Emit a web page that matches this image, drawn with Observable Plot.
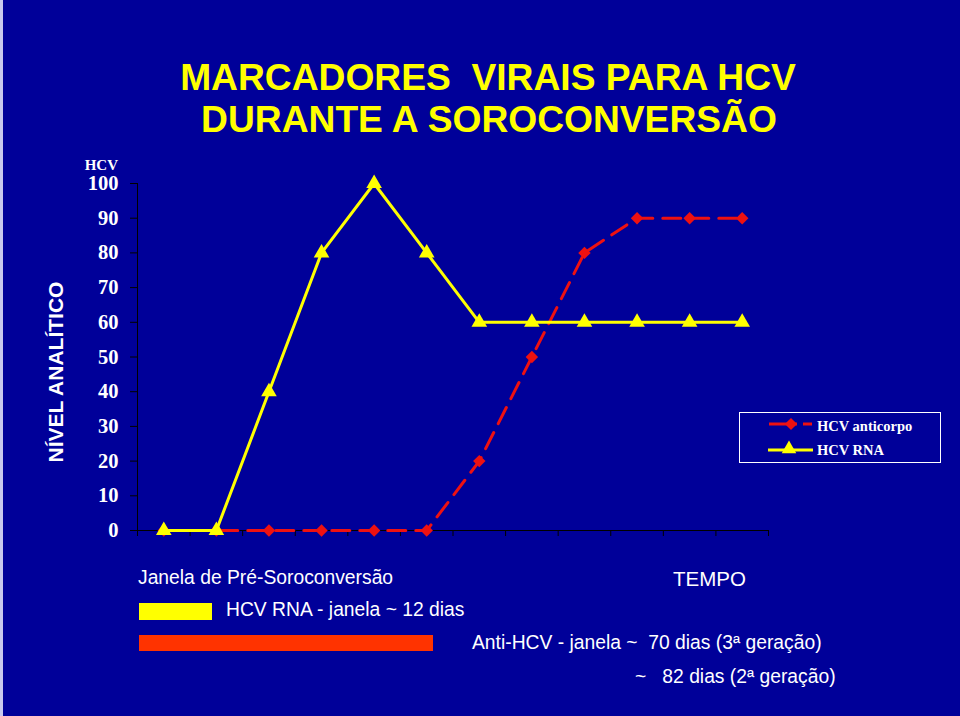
<!DOCTYPE html>
<html><head><meta charset="utf-8">
<script src="https://cdn.jsdelivr.net/npm/d3@7"></script>
<script src="https://cdn.jsdelivr.net/npm/@observablehq/plot@0.6"></script>
<style>
html,body{margin:0;padding:0;background:#000099;}
#wrap{position:relative;width:960px;height:716px;background:#000099;overflow:hidden;}
#wrap svg{position:absolute;left:0;top:0;}
#edge{position:absolute;left:0;top:0;width:3px;height:716px;background:#c8c8ee;}
</style></head><body><div id="wrap"><div id="edge"></div></div>
<script>
// ---- data ----
const tempo = [1, 2, 3, 4, 5, 6, 7, 8, 9, 10, 11, 12];
const hcvRna = [0, 0, 40, 80, 100, 80, 60, 60, 60, 60, 60, 60];
const hcvAnticorpo = [0, 0, 0, 0, 0, 0, 20, 50, 80, 90, 90, 90];
const yTicks = [0, 10, 20, 30, 40, 50, 60, 70, 80, 90, 100];
const seriesNames = ["HCV anticorpo", "HCV RNA"];
const titleLines = ["MARCADORES  VIRAIS PARA HCV", "DURANTE A SOROCONVERSÃO"];
const yUnit = "HCV";
const yLabel = "NÍVEL ANALÍTICO";
const xLabel = "TEMPO";
const notes = ["Janela de Pré-Soroconversão", "HCV RNA - janela ~ 12 dias",
  "Anti-HCV - janela ~  70 dias (3ª geração)", "~   82 dias (2ª geração)"];

const YELLOW = "#ffff00", RED = "#ee1111", BAR_RED = "#ff3300";
const SANS = "Liberation Sans, Arial, sans-serif";
const SERIF = "Liberation Serif, Times New Roman, serif";

const rnaData = tempo.map((t, i) => ({t, v: hcvRna[i]}));
const antiData = tempo.map((t, i) => ({t, v: hcvAnticorpo[i]}));
const xBounds = tempo.map(t => t - 0.5).concat([tempo[tempo.length - 1] + 0.5]);

const chart = Plot.plot({
  width: 960, height: 716,
  marginLeft: 137, marginRight: 192, marginTop: 183, marginBottom: 186,
  style: {background: "transparent", overflow: "visible"},
  x: {type: "linear", domain: [xBounds[0], xBounds[xBounds.length - 1]]},
  y: {domain: [0, 100]},
  marks: [
    Plot.axisY({ticks: yTicks, tickSize: 7, tickPadding: 12, stroke: "black",
      fill: "white", fontSize: 20.5, fontFamily: SERIF, fontWeight: "bold", label: null}),
    Plot.axisX({ticks: xBounds, tickSize: 6, tickFormat: () => "", stroke: "black", label: null}),
    Plot.ruleY([0], {stroke: "black"}),
    Plot.ruleX([xBounds[0]], {stroke: "black"}),
    Plot.line(antiData, {x: "t", y: "v", stroke: RED, strokeWidth: 3, strokeDasharray: "18,10"}),
    Plot.dot(antiData, {x: "t", y: "v", symbol: "diamond2", r: 5.6, fill: RED, stroke: "none"}),
    Plot.line(rnaData, {x: "t", y: "v", stroke: YELLOW, strokeWidth: 3}),
    Plot.dot(rnaData, {x: "t", y: "v", symbol: "triangle", r: 5.8, fill: YELLOW, stroke: "none"})
  ]
});
const wrap = document.getElementById("wrap");
wrap.appendChild(chart);

// ---- overlay: titles, labels, legend, notes ----
const ov = d3.select(wrap).append("svg").attr("width", 960).attr("height", 716)
  .style("pointer-events", "none");

function txt(s, x, y, o = {}) {
  return ov.append("text").attr("x", x).attr("y", y)
    .attr("xml:space", "preserve").style("white-space", "pre")
    .attr("text-anchor", o.anchor || "start")
    .attr("font-family", o.family || SANS)
    .attr("font-size", o.size || 19.3)
    .attr("font-weight", o.weight || "normal")
    .attr("fill", o.fill || "white")
    .text(s);
}
txt(titleLines[0], 488, 90, {anchor: "middle", size: 37.2, weight: "bold", fill: YELLOW});
txt(titleLines[1], 489, 132, {anchor: "middle", size: 37.2, weight: "bold", fill: YELLOW});
txt(yUnit, 118, 170, {anchor: "end", size: 15, weight: "bold", family: SERIF});
txt(yLabel, 0, 0, {anchor: "middle", size: 21, weight: "bold"})
  .attr("transform", "translate(63,372) rotate(-90)");
txt(xLabel, 673, 586, {size: 20.5});
txt(notes[0], 138, 584);
txt(notes[1], 226, 616);
txt(notes[2], 472, 649);
txt(notes[3], 635, 683);

ov.append("rect").attr("x", 139).attr("y", 603).attr("width", 73).attr("height", 17).attr("fill", YELLOW);
ov.append("rect").attr("x", 139).attr("y", 635).attr("width", 294).attr("height", 16).attr("fill", BAR_RED);

// legend
ov.append("rect").attr("x", 739.5).attr("y", 412.5).attr("width", 201).attr("height", 50)
  .attr("fill", "none").attr("stroke", "white").attr("stroke-width", 1);
ov.append("line").attr("x1", 769).attr("x2", 812).attr("y1", 424).attr("y2", 424)
  .attr("stroke", RED).attr("stroke-width", 3).attr("stroke-dasharray", "28,6");
ov.append("path").attr("d", d3.symbol(d3.symbolDiamond2, 95)())
  .attr("transform", "translate(791,424)").attr("fill", RED);
txt(seriesNames[0], 817, 431, {size: 14.5, weight: "bold", family: SERIF});
ov.append("line").attr("x1", 768).attr("x2", 813).attr("y1", 450).attr("y2", 450)
  .attr("stroke", YELLOW).attr("stroke-width", 3);
ov.append("path").attr("d", d3.symbol(d3.symbolTriangle, 92)())
  .attr("transform", "translate(789,449)").attr("fill", YELLOW);
txt(seriesNames[1], 817, 455, {size: 14.5, weight: "bold", family: SERIF});
</script></body></html>
